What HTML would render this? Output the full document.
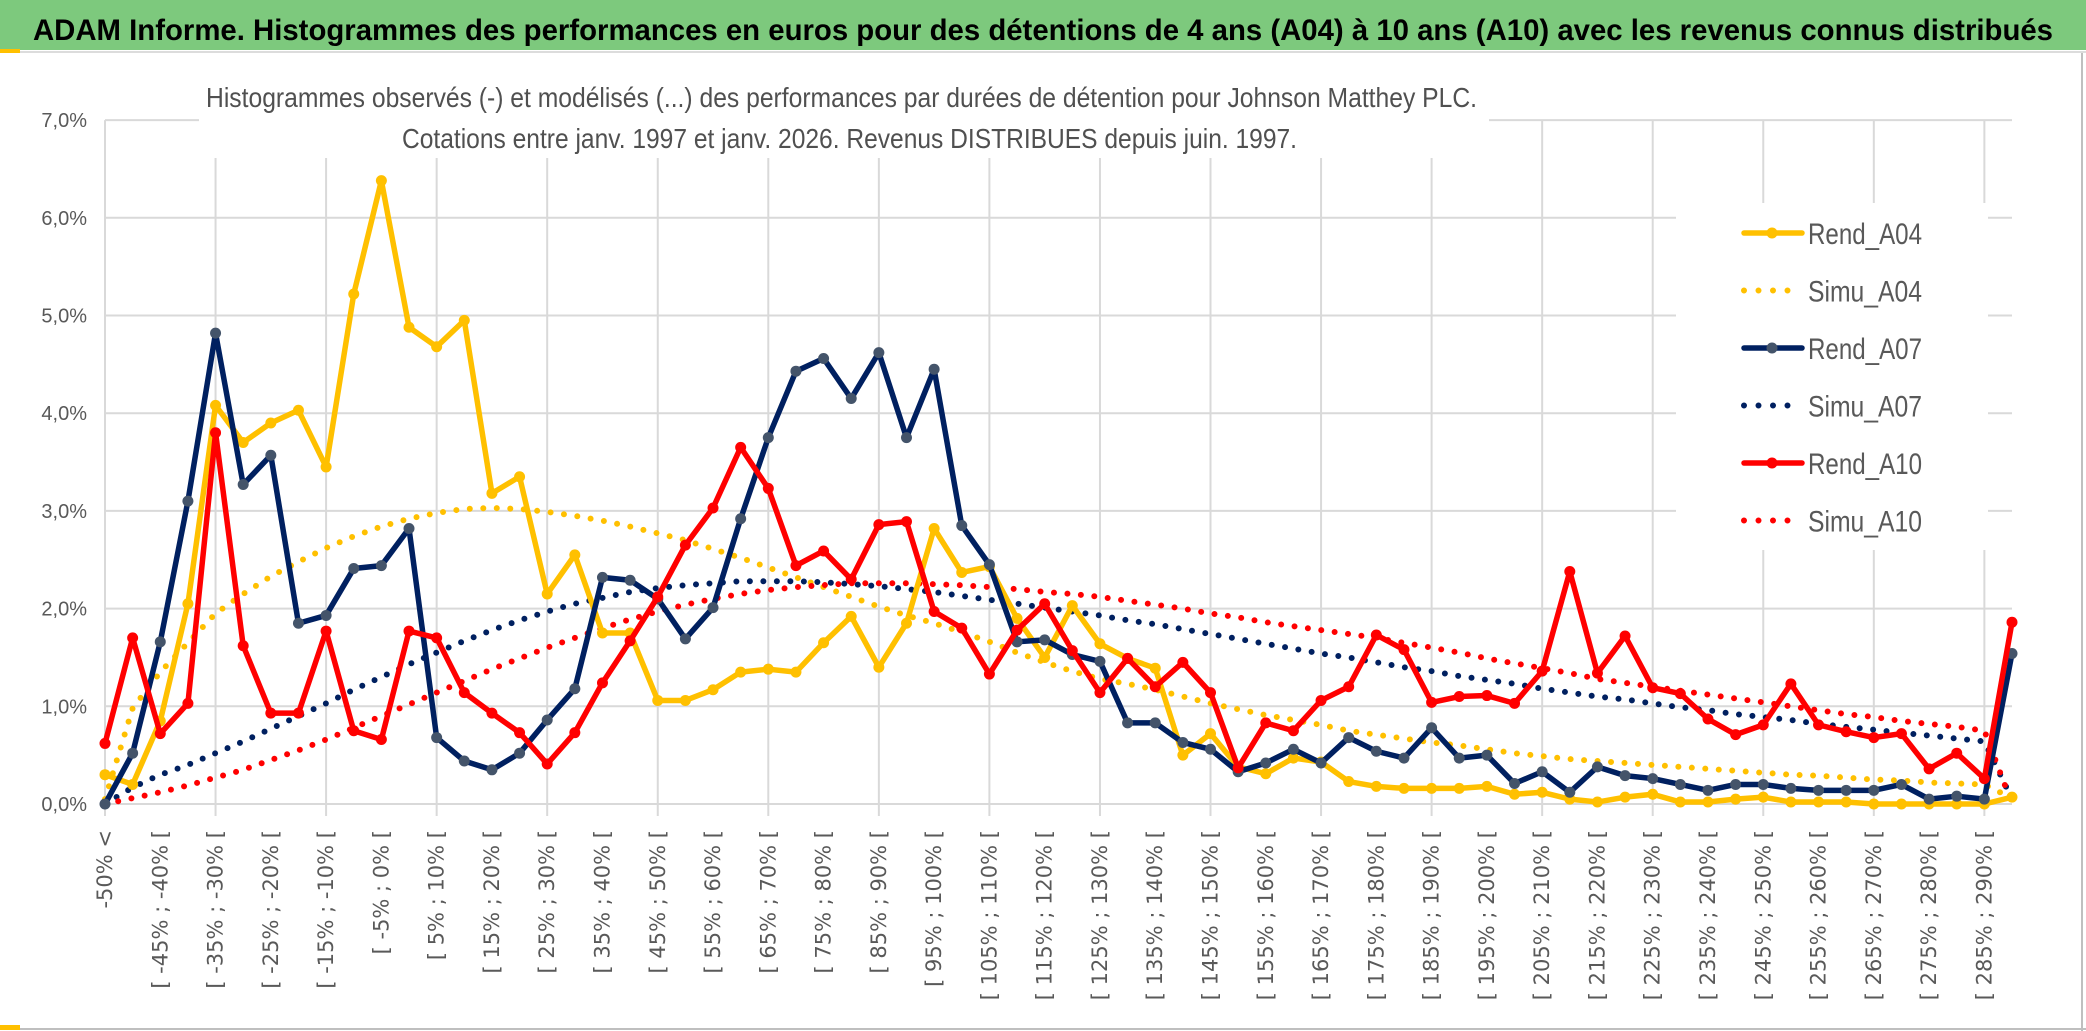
<!DOCTYPE html>
<html><head><meta charset="utf-8"><style>
html,body{margin:0;padding:0;background:#fff;}
svg{display:block;}
text{font-family:"Liberation Sans Narrow","Liberation Sans",sans-serif;}
</style></head><body>
<svg id="chart" width="2086" height="1031" viewBox="0 0 2086 1031" xmlns="http://www.w3.org/2000/svg">
<rect x="0" y="0" width="2086" height="1031" fill="#fff"/>
<rect x="0" y="0" width="2086" height="50" fill="#7DC97D"/>
<rect x="0" y="49" width="20" height="4" fill="#FFC000"/>
<line x1="20" y1="52" x2="2086" y2="52" stroke="#dcdcdc" stroke-width="2"/>
<text x="33" y="40" font-size="30" font-weight="bold" fill="#000" textLength="2020" lengthAdjust="spacingAndGlyphs">ADAM Informe. Histogrammes des performances en euros pour des détentions de 4 ans (A04) à 10 ans (A10) avec les revenus connus distribués</text>
<line x1="2082" y1="53" x2="2082" y2="1031" stroke="#bfbfbf" stroke-width="2"/>
<line x1="0" y1="1029" x2="2086" y2="1029" stroke="#bfbfbf" stroke-width="2"/>
<rect x="0" y="1025" width="20" height="5" fill="#FFC000"/>
<g id="grid"></g>
<rect x="199" y="60" width="1290" height="98" fill="#fff"/>
<text x="206" y="107" font-size="28" fill="#505050" textLength="1271" lengthAdjust="spacingAndGlyphs">Histogrammes observés (-) et modélisés (...) des performances par durées de détention pour Johnson Matthey PLC.</text>
<text x="402" y="148" font-size="28" fill="#505050" textLength="895" lengthAdjust="spacingAndGlyphs">Cotations entre janv. 1997 et janv. 2026. Revenus DISTRIBUES depuis juin. 1997.</text>
<rect x="1676" y="203" width="312" height="347" fill="#fff"/>
<g id="yaxis"></g>
<g id="xaxis"></g>
<g id="series"></g>
<g id="legend"></g>
</svg>
<script>
const yTicks = [0,1,2,3,4,5,6,7];
const yTickLabels = ["0,0%","1,0%","2,0%","3,0%","4,0%","5,0%","6,0%","7,0%"];
const nCats = 70;
const rendA04 = [0.3,0.2,0.85,2.05,4.08,3.7,3.9,4.03,3.45,5.22,6.38,4.88,4.68,4.95,3.18,3.35,2.15,2.55,1.75,1.75,1.06,1.06,1.17,1.35,1.38,1.35,1.65,1.92,1.4,1.85,2.82,2.37,2.43,1.9,1.5,2.03,1.64,1.49,1.39,0.5,0.72,0.38,0.31,0.47,0.43,0.23,0.18,0.16,0.16,0.16,0.18,0.1,0.12,0.05,0.02,0.07,0.1,0.02,0.02,0.05,0.07,0.02,0.02,0.02,0,0,0,0,0,0.07];
const simuA04 = [0.05,0.98,1.35,1.65,1.95,2.15,2.33,2.48,2.62,2.74,2.84,2.92,2.98,3.02,3.03,3.02,2.99,2.95,2.9,2.84,2.77,2.7,2.61,2.52,2.42,2.32,2.22,2.12,2.02,1.93,1.85,1.76,1.66,1.55,1.45,1.36,1.28,1.23,1.17,1.1,1.03,0.97,0.91,0.86,0.81,0.75,0.71,0.67,0.63,0.6,0.56,0.52,0.49,0.46,0.44,0.42,0.4,0.38,0.36,0.34,0.32,0.3,0.29,0.27,0.25,0.24,0.22,0.21,0.2,0.06];
const rendA07 = [0,0.52,1.66,3.1,4.82,3.27,3.57,1.85,1.93,2.41,2.44,2.82,0.68,0.44,0.35,0.52,0.86,1.18,2.32,2.29,2.1,1.69,2.01,2.92,3.75,4.43,4.56,4.15,4.62,3.75,4.45,2.85,2.45,1.66,1.68,1.53,1.46,0.83,0.83,0.63,0.56,0.33,0.42,0.56,0.42,0.68,0.54,0.47,0.78,0.47,0.5,0.21,0.33,0.12,0.38,0.29,0.26,0.2,0.14,0.2,0.2,0.16,0.14,0.14,0.14,0.2,0.05,0.08,0.05,1.54];
const simuA07 = [0,0.17,0.3,0.4,0.52,0.64,0.77,0.9,1.03,1.17,1.3,1.43,1.55,1.67,1.78,1.88,1.97,2.05,2.11,2.17,2.21,2.24,2.26,2.28,2.28,2.28,2.27,2.25,2.23,2.2,2.17,2.13,2.09,2.05,2.01,1.97,1.93,1.88,1.84,1.79,1.74,1.69,1.64,1.59,1.54,1.5,1.45,1.4,1.36,1.31,1.27,1.23,1.18,1.14,1.1,1.07,1.03,0.99,0.96,0.92,0.89,0.86,0.82,0.79,0.76,0.73,0.7,0.67,0.64,0.05];
const rendA10 = [0.62,1.7,0.72,1.03,3.8,1.62,0.93,0.93,1.77,0.75,0.66,1.77,1.7,1.14,0.93,0.73,0.41,0.73,1.24,1.67,2.12,2.65,3.03,3.65,3.23,2.44,2.59,2.3,2.86,2.89,1.97,1.8,1.33,1.78,2.05,1.57,1.14,1.49,1.2,1.45,1.14,0.37,0.83,0.75,1.06,1.2,1.73,1.58,1.04,1.1,1.11,1.03,1.36,2.38,1.34,1.72,1.19,1.13,0.87,0.71,0.81,1.23,0.81,0.74,0.68,0.72,0.36,0.52,0.26,1.86];
const simuA10 = [0,0.06,0.12,0.19,0.27,0.35,0.45,0.55,0.66,0.78,0.9,1.02,1.14,1.26,1.38,1.49,1.6,1.7,1.8,1.89,1.97,2.04,2.1,2.15,2.19,2.22,2.24,2.26,2.26,2.26,2.25,2.24,2.22,2.2,2.17,2.15,2.12,2.08,2.04,2.0,1.95,1.91,1.86,1.82,1.78,1.74,1.7,1.65,1.6,1.55,1.49,1.44,1.39,1.34,1.28,1.24,1.2,1.16,1.12,1.08,1.04,1.0,0.96,0.92,0.89,0.85,0.82,0.79,0.75,0];

const NS = "http://www.w3.org/2000/svg";
const X0 = 105, X1 = 2012, Y0 = 804, YPER = 97.7;
function xPos(i){ return X0 + (X1 - X0) * i / (nCats - 1); }
function yPos(v){ return Y0 - v * YPER; }
function mk(tag, parent){ const e = document.createElementNS(NS, tag); parent.appendChild(e); return e; }
function catLabel(i){
  if (i === 0) return "-50% <";
  const a = -55 + 5*i, b = -50 + 5*i;
  return "[ " + a + "% ; " + b + "% [";
}

const grid = document.getElementById('grid');
yTicks.forEach(t => {
  const l = mk('line', grid);
  
  
  l.setAttribute('x1', X0); l.setAttribute('x2', X1);
  l.setAttribute('y1', yPos(t)); l.setAttribute('y2', yPos(t));
  l.setAttribute('stroke', '#d9d9d9'); l.setAttribute('stroke-width', '2');
});
for (let i = 0; i < nCats; i += 4) {
  const l = mk('line', grid);
  
  
  l.setAttribute('x1', xPos(i)); l.setAttribute('x2', xPos(i));
  l.setAttribute('y1', yPos(7)); l.setAttribute('y2', Y0 + 12);
  l.setAttribute('stroke', '#d9d9d9'); l.setAttribute('stroke-width', '2');
}

const ya = document.getElementById('yaxis');
yTicks.forEach((t, k) => {
  const tx = mk('text', ya);
  
  
  tx.setAttribute('x', 87); tx.setAttribute('y', yPos(t) + 7);
  tx.setAttribute('text-anchor', 'end'); tx.setAttribute('font-size', '20');
  tx.setAttribute('fill', '#595959');
  tx.textContent = yTickLabels[k];
});

const xa = document.getElementById('xaxis');
for (let i = 0; i < nCats; i += 2) {
  const tx = mk('text', xa);
  
  
  const x = xPos(i) + 7, y = 830;
  tx.setAttribute('x', x); tx.setAttribute('y', y);
  tx.setAttribute('transform', 'rotate(-90 ' + x + ' ' + y + ')');
  tx.setAttribute('text-anchor', 'end'); tx.setAttribute('font-size', '21');
  tx.setAttribute('style', 'font-family:"DejaVu Sans",sans-serif');
  tx.setAttribute('fill', '#595959');
  tx.textContent = catLabel(i);
}

const sg = document.getElementById('series');
function drawDotted(data, color, name){
  const p = mk('polyline', sg);
  
  
  p.setAttribute('points', data.map((v, i) => xPos(i) + ',' + yPos(v)).join(' '));
  p.setAttribute('fill', 'none'); p.setAttribute('stroke', color);
  p.setAttribute('stroke-width', '6'); p.setAttribute('stroke-linecap', 'round');
  p.setAttribute('stroke-dasharray', '0 13.5');
}
function drawSolid(data, color, mcolor, name){
  const p = mk('polyline', sg);
  
  
  p.setAttribute('points', data.map((v, i) => xPos(i) + ',' + yPos(v)).join(' '));
  p.setAttribute('fill', 'none'); p.setAttribute('stroke', color);
  p.setAttribute('stroke-width', '5.5'); p.setAttribute('stroke-linejoin', 'round');
  data.forEach((v, i) => {
    const c = mk('circle', sg);
    
    
    c.setAttribute('cx', xPos(i)); c.setAttribute('cy', yPos(v)); c.setAttribute('r', '5.5');
    c.setAttribute('fill', mcolor);
  });
}
drawDotted(simuA04, '#FFC000', 'simu-a04-line');
drawDotted(simuA07, '#002060', 'simu-a07-line');
drawDotted(simuA10, '#FF0000', 'simu-a10-line');
drawSolid(rendA04, '#FFC000', '#FFC000', 'rend-a04-line');
drawSolid(rendA07, '#002060', '#44546A', 'rend-a07-line');
drawSolid(rendA10, '#FF0000', '#FF0000', 'rend-a10-line');

const lg = document.getElementById('legend');
const legendNames = ["Rend_A04","Simu_A04","Rend_A07","Simu_A07","Rend_A10","Simu_A10"];
const legendColors = ['#FFC000','#FFC000','#002060','#002060','#FF0000','#FF0000'];
const legendMarker = ['#FFC000',null,'#44546A',null,'#FF0000',null];
legendNames.forEach((n, k) => {
  const y = 233 + k * 57.5;
  const l = mk('line', lg);
  
  
  l.setAttribute('x1', 1744); l.setAttribute('x2', 1802);
  l.setAttribute('y1', y); l.setAttribute('y2', y);
  l.setAttribute('stroke', legendColors[k]); l.setAttribute('stroke-linecap', 'round');
  if (legendMarker[k]) {
    l.setAttribute('stroke-width', '5.5');
    const c = mk('circle', lg);
    
    
    c.setAttribute('cx', 1772); c.setAttribute('cy', y); c.setAttribute('r', '5.5');
    c.setAttribute('fill', legendMarker[k]);
  } else {
    l.setAttribute('stroke-width', '6');
    l.setAttribute('stroke-dasharray', '0 14.5');
  }
  const tx = mk('text', lg);
  
  
  tx.setAttribute('x', 1808); tx.setAttribute('y', y + 11);
  tx.setAttribute('font-size', '30'); tx.setAttribute('fill', '#595959');
  tx.setAttribute('textLength', '114'); tx.setAttribute('lengthAdjust', 'spacingAndGlyphs');
  tx.textContent = n;
});
</script>
</body></html>
